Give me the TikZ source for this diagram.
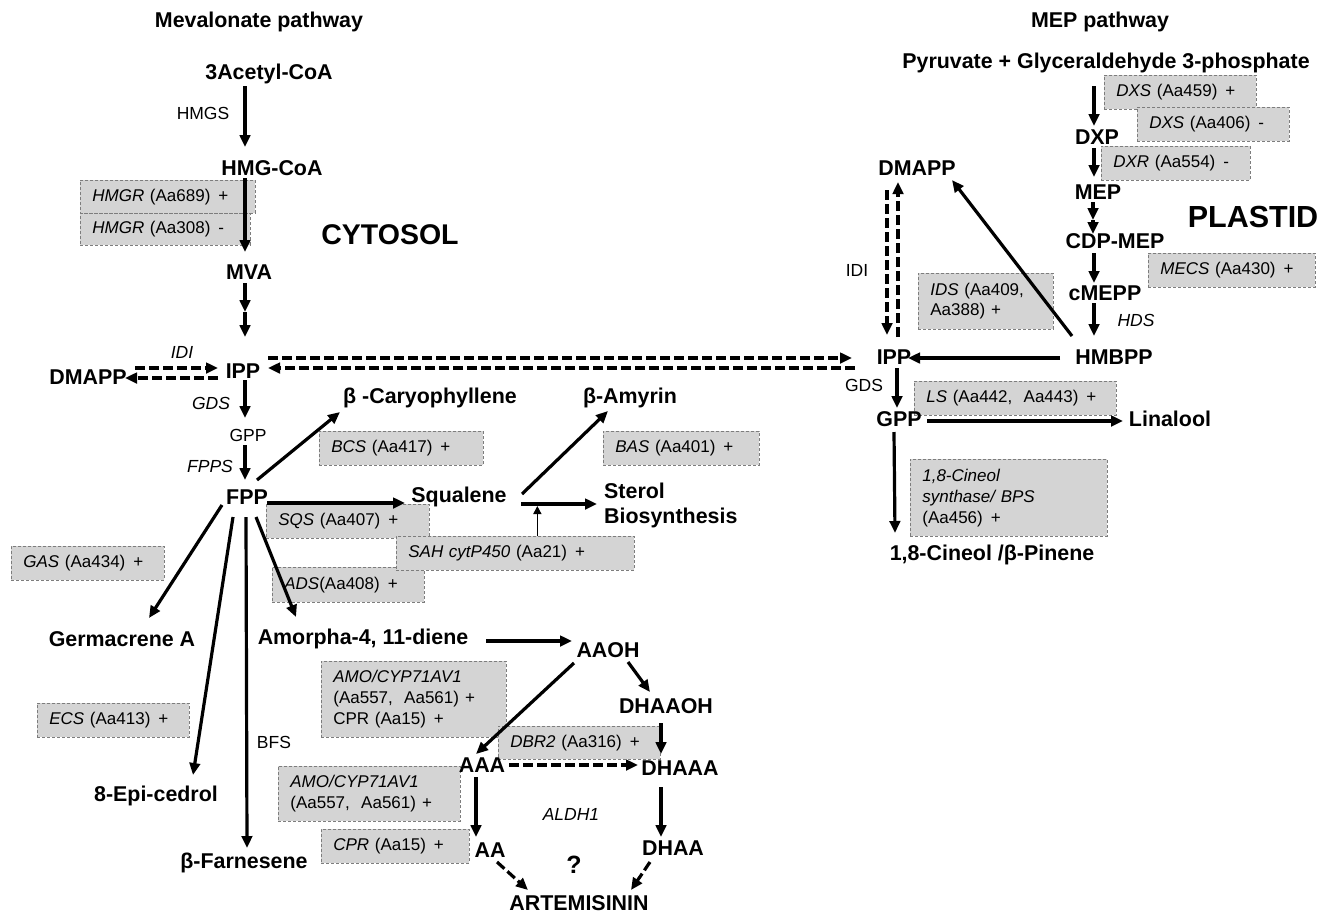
\documentclass[tikz,border=0pt]{standalone}
\usepackage{fontspec}
\setmainfont{Liberation Sans}
\usetikzlibrary{arrows.meta,calc}
\definecolor{boxgray}{RGB}{212,212,212}
\definecolor{boxedge}{RGB}{125,125,125}
\begin{document}
\begin{tikzpicture}[x=1pt,y=-1pt,
  lbl/.style={font=\fontsize{21.4}{25}\selectfont\bfseries, inner sep=1pt},
  big/.style={font=\fontsize{#1}{#1}\selectfont\bfseries, inner sep=1pt},
  sm/.style={font=\fontsize{17.5}{20}\selectfont, inner sep=1pt},
  smi/.style={font=\fontsize{17.5}{20}\selectfont\itshape, inner sep=1pt},
  gbox/.style={draw=boxedge, densely dashed, line width=0.7pt, fill=boxgray,
    font=\fontsize{17}{21}\selectfont, inner xsep=12pt, inner ysep=0pt,
    anchor=north west, align=left},
  arr/.style={line width=3.2pt, -{Triangle[length=12pt,width=10.5pt]}},
  darr/.style={arr, dash pattern=on 10pt off 4pt},
  tarr/.style={line width=1.4pt, -{Triangle[length=8pt,width=8pt]}},
]
\path[fill=white] (0,0) rectangle (1331,914);
\useasboundingbox (0,0) rectangle (1331,914);

% ---------- boxes ----------
\node[gbox, minimum width=170pt, minimum height=32pt, text width=146pt] (hmgr2) at (80,213) {\textit{HMGR} (Aa308)\hspace{8pt}-};
\node[gbox, minimum width=175pt, minimum height=33pt, text width=151pt] (hmgr1) at (80,180) {\textit{HMGR} (Aa689)\hspace{8pt}+};
\node[gbox, minimum width=164pt, minimum height=34pt, text width=140pt] (bcs) at (319,431) {\textit{BCS} (Aa417)\hspace{8pt}+};
\node[gbox, minimum width=163pt, minimum height=34pt, text width=139pt] (sqs) at (266,504) {\textit{SQS} (Aa407)\hspace{8pt}+};
\node[gbox, minimum width=152pt, minimum height=35pt, text width=128pt] (ads) at (272,567) {\textit{ADS}(Aa408)\hspace{8pt}+};
\node[gbox, minimum width=238pt, minimum height=34pt, text width=214pt] (sah) at (396,536) {\textit{SAH cytP450} (Aa21)\hspace{8pt}+};
\node[gbox, minimum width=153pt, minimum height=34pt, text width=129pt] (gas) at (11,546) {\textit{GAS} (Aa434)\hspace{8pt}+};
\node[gbox, minimum width=156pt, minimum height=34pt, text width=132pt] (bas) at (603,431) {\textit{BAS} (Aa401)\hspace{8pt}+};
\node[gbox, minimum width=185pt, minimum height=76pt, text width=161pt] (amo1) at (321,661) {\textit{AMO/CYP71AV1}\\(Aa557,\ \ Aa561)\hspace{6pt}+\\CPR (Aa15)\hspace{8pt}+};
\node[gbox, minimum width=152pt, minimum height=34pt, text width=128pt] (ecs) at (37,703) {\textit{ECS} (Aa413)\hspace{8pt}+};
\node[gbox, minimum width=162pt, minimum height=33pt, text width=138pt] (dbr2) at (498,726) {\textit{DBR2} (Aa316)\hspace{8pt}+};
\node[gbox, minimum width=182pt, minimum height=55pt, text width=158pt] (amo2) at (278,766) {\textit{AMO/CYP71AV1}\\(Aa557,\ \ Aa561)\hspace{6pt}+};
\node[gbox, minimum width=148pt, minimum height=34pt, text width=124pt] (cpr) at (321,829) {\textit{CPR} (Aa15)\hspace{8pt}+};
\node[gbox, minimum width=152pt, minimum height=34pt, text width=128pt] (dxs1) at (1104,75) {\textit{DXS} (Aa459)\hspace{8pt}+};
\node[gbox, minimum width=152pt, minimum height=34pt, text width=128pt] (dxs2) at (1137,107) {\textit{DXS} (Aa406)\hspace{8pt}-};
\node[gbox, minimum width=149pt, minimum height=34pt, text width=125pt] (dxr) at (1101,146) {\textit{DXR} (Aa554)\hspace{8pt}-};
\node[gbox, minimum width=167pt, minimum height=34pt, text width=143pt] (mecs) at (1148,253) {\textit{MECS} (Aa430)\hspace{8pt}+};
\node[gbox, minimum width=135pt, minimum height=56pt, text width=111pt, font=\fontsize{17}{20}\selectfont] (ids) at (918,273) {\textit{IDS} (Aa409,\\Aa388)\hspace{6pt}+};
\node[gbox, minimum width=202pt, minimum height=34pt, text width=178pt] (ls) at (914,381) {\textit{LS} (Aa442,\ \ Aa443)\hspace{8pt}+};
\node[gbox, minimum width=197pt, minimum height=77pt, text width=173pt] (cinbox) at (910,459) {\textit{1,8-Cineol}\\\textit{synthase/ BPS}\\(Aa456)\hspace{8pt}+};

% ---------- labels (left) ----------
\node[lbl] (mevtitle) at (259,22) {Mevalonate pathway};
\node[lbl] (acetyl) at (269,74) {3Acetyl-CoA};
\node[sm] (hmgs) at (203,113) {HMGS};
\node[lbl] (hmgcoa) at (272,168) {HMG-CoA};
\node[big=28.5] (cytosol) at (390,235) {CYTOSOL};
\node[lbl] (mva) at (249,272) {MVA};
\node[lbl] (ippL) at (243,371) {IPP};
\node[lbl] (dmappL) at (88,377) {DMAPP};
\node[smi] (idiL) at (182,352) {IDI};
\node[smi] (gdsL) at (211,403) {GDS};
\node[sm] (gppL) at (248,435) {GPP};
\node[smi] (fpps) at (210,466) {FPPS};
\node[lbl] (fpp) at (247,497) {FPP};
\node[lbl] (bcar) at (430,398) {β -Caryophyllene};
\node[lbl] (squalene) at (459,497) {Squalene};
\node[lbl] (bamyrin) at (630,398) {β-Amyrin};
\node[lbl, anchor=west, align=left] (sterol) at (603,505) {Sterol\\Biosynthesis};
\node[lbl] (germ) at (122,639) {Germacrene A};
\node[lbl] (amorpha) at (363,639) {Amorpha-4, 11-diene};
\node[lbl] (aaoh) at (608,650) {AAOH};
\node[sm] (bfs) at (274,742) {BFS};
\node[lbl] (epi) at (156,796) {8-Epi-cedrol};
\node[lbl] (farn) at (244,863) {β-Farnesene};
\node[lbl] (dhaaoh) at (666,706) {DHAAOH};
\node[lbl] (aaa) at (482,765) {AAA};
\node[lbl] (dhaaa) at (680,768) {DHAAA};
\node[smi] (aldh1) at (571,814) {ALDH1};
\node[lbl] (aa) at (490,850) {AA};
\node[lbl] (dhaa) at (673,848) {DHAA};
\node[big=25] (qmark) at (574,865) {?};
\node[lbl] (artem) at (579,903) {ARTEMISININ};

% ---------- labels (right) ----------
\node[lbl] (meptitle) at (1100,22) {MEP pathway};
\node[lbl] (pyr) at (1106,63) {Pyruvate + Glyceraldehyde 3-phosphate};
\node[lbl] (dxp) at (1097,137) {DXP};
\node[lbl] (mep) at (1098,192) {MEP};
\node[lbl] (cdpmep) at (1115,241) {CDP-MEP};
\node[big=30.5] (plastid) at (1253,217) {PLASTID};
\node[lbl] (cmepp) at (1105,293) {cMEPP};
\node[smi] (hds) at (1136,320) {HDS};
\node[lbl] (dmappR) at (917,168) {DMAPP};
\node[sm] (idiR) at (857,270) {IDI};
\node[lbl] (ippR) at (894,357) {IPP};
\node[lbl] (hmbpp) at (1114,357) {HMBPP};
\node[sm] (gdsR) at (864,385) {GDS};
\node[lbl] (gppR) at (899,419) {GPP};
\node[lbl] (linalool) at (1170,419) {Linalool};
\node[lbl] (cineol) at (992,555) {1,8-Cineol /β-Pinene};

% ---------- helper coordinates ----------
\coordinate (mvamid) at ($(mva)+(-4,40)$);
\coordinate (mepmid) at ($(mep)+(-5,28)$);
\coordinate (sahhit) at ($(sah.north)+(22,-30)$);

% ---------- arrows (left) ----------
\draw[arr] ($(acetyl)+(-24,12)$) -- ($(hmgcoa)+(-27,-21)$);
\draw[arr] ($(hmgcoa)+(-27,10)$) -- ($(mva)+(-4,-20)$);
\draw[arr] ($(mva)+(-4,11)$) -- (mvamid);
\draw[arr] (mvamid) -- ($(ippL)+(2,-34)$);
\draw[arr] ($(ippL)+(2,9)$) -- ($(gppL)+(-3,-17)$);
\draw[arr] ($(gppL)+(-3,10)$) -- ($(fpp)+(-2,-17)$);
\draw[arr] ($(fpp)+(10,-17)$) -- ($(bcar)+(-90,14)$);
\draw[arr] ($(fpp)+(20,6)$) -- ($(squalene)+(-54,6)$);
\draw[arr] ($(fpp)+(-25,8)$) -- ($(germ)+(27,-21)$);
\draw[arr] ($(fpp)+(-14,20)$) -- ($(epi)+(37,-21)$);
\draw[arr] ($(fpp)+(-1,20)$) -- ($(farn)+(3,-15)$);
\draw[arr] ($(fpp)+(9,20)$) -- ($(amorpha)+(-67,-22)$);
\draw[arr] ($(squalene)+(63,-3)$) -- ($(bamyrin)+(-22,13)$);
\draw[arr] ($(squalene)+(62,7)$) -- ($(sterol.west)+(-6,-1)$);
\draw[tarr] ($(sah.north)+(22,0)$) -- (sahhit);
\draw[arr] ($(amorpha)+(123,2)$) -- ($(aaoh)+(-36,-9)$);
\draw[arr] ($(aaoh)+(20,12)$) -- ($(dhaaoh)+(-16,-14)$);
\draw[arr] ($(aaoh)+(-34,13)$) -- ($(aaa)+(-6,-11)$);
\draw[arr] ($(dhaaoh)+(-5,17)$) -- ($(dhaaa)+(-19,-14)$);
\draw[darr] ($(aaa)+(27,0)$) -- ($(dhaaa)+(-42,-3)$);
\draw[arr] ($(aaa)+(-6,12)$) -- ($(aa)+(-14,-13)$);
\draw[arr] ($(dhaaa)+(-19,19)$) -- ($(dhaa)+(-12,-11)$);
\draw[darr] ($(aa)+(7,12)$) -- ($(artem)+(-51,-13)$);
\draw[darr] ($(dhaa)+(-23,14)$) -- ($(artem)+(52,-13)$);
\draw[darr] ($(dmappL)+(47,-9)$) -- ($(ippL)+(-25,-3)$);
\draw[darr] ($(ippL)+(-25,7)$) -- ($(dmappL)+(37,1)$);
\draw[darr] ($(ippL)+(25,-13)$) -- ($(ippR)+(-42,1)$);
\draw[darr] ($(ippR)+(-39,11)$) -- ($(ippL)+(25,-3)$);

% ---------- arrows (right) ----------
\draw[arr] ($(pyr)+(-12,23)$) -- ($(dxp)+(-3,-11)$);
\draw[arr] ($(dxp)+(-3,11)$) -- ($(mep)+(-4,-15)$);
\draw[arr] ($(mep)+(-5,10)$) -- (mepmid);
\draw[arr] (mepmid) -- ($(cdpmep)+(-22,-7)$);
\draw[arr] ($(cdpmep)+(-21,12)$) -- ($(cmepp)+(-11,-10)$);
\draw[arr] ($(cmepp)+(-11,10)$) -- ($(hmbpp)+(-20,-21)$);
\draw[arr] ($(hmbpp)+(-54,1)$) -- ($(ippR)+(14,1)$);
\draw[arr] ($(hmbpp)+(-42,-21)$) -- ($(dmappR)+(35,12)$);
\draw[darr] ($(dmappR)+(-30,22)$) -- ($(ippR)+(-7,-22)$);
\draw[darr] ($(ippR)+(4,-20)$) -- ($(dmappR)+(-19,14)$);
\draw[arr] ($(ippR)+(3,11)$) -- ($(gppR)+(-2,-11)$);
\draw[arr] ($(gppR)+(28,2)$) -- ($(linalool)+(-47,2)$);
\draw[arr] ($(gppR)+(-5,13)$) -- ($(cineol)+(-97,-22)$);
\end{tikzpicture}
\end{document}
